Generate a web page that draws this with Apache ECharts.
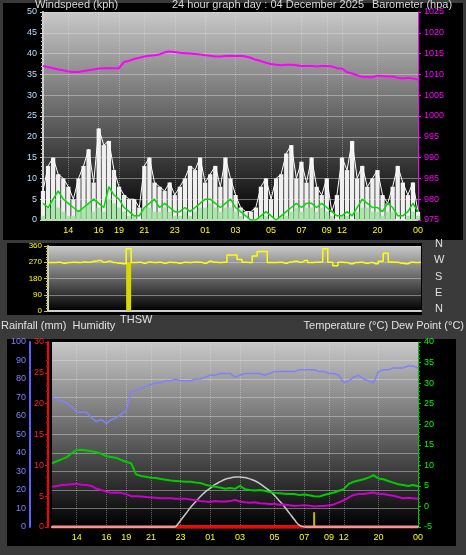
<!DOCTYPE html>
<html><head><meta charset="utf-8">
<script src="https://cdn.jsdelivr.net/npm/echarts@6/dist/echarts.min.js"></script>
<style>html,body{margin:0;padding:0;background:#3a3a3a}#c{width:466px;height:555px}</style>
</head><body><div id="c"></div>
<script>
// ---- data ----
var hourLabels = ['14','16','19','21','23','01','03','05','07','09','12','20','00'];
var hourIdx    = [5,11,15,20,26,32,38,45,51,56,59,66,74];
var windGust = [7,13,15,11,10,8,5,10,13,17,9,22,18,19,12,
  8,6,5,5,3,13,15,9,8,7,9,6,8,10,13,
  12,15,9,11,13,8,15,10,6,3,2,2,3,8,10,
  5,10,11,16,18,10,14,9,15,8,6,10,2,6,15,
  12,19,10,13,8,10,12,6,4,8,13,9,6,9,2];
var windAvg = [4,3,5,7,5,4,3,2,3,4,5,4,3,8,6,
  5,3,2,1,1,3,4,5,3,4,3,2,2,3,2,
  3,4,5,5,4,3,4,5,3,2,1,0,0,1,2,
  1,0,1,2,3,4,3,4,4,3,4,3,2,1,1,
  2,1,3,5,4,3,3,2,4,3,1,1,2,4,2];
var windLow = [1,3,5,3,2,1,1,2,3,4,2,3,2,5,4,
  3,2,1,1,0,3,3,2,2,3,2,1,1,2,1,
  2,3,3,4,3,2,3,3,2,1,0,0,0,1,1,
  0,0,1,1,2,3,2,3,3,2,3,2,1,0,1,
  1,0,2,3,3,2,2,1,2,2,0,0,1,2,1];
var pressure = [1012,1011.8,1011.5,1011.2,1011,1010.7,1010.6,1010.6,1010.8,1011,1011.2,1011.4,1011.5,1011.5,1011.5,
  1011.5,1013,1013.3,1013.7,1014,1014.3,1014.5,1014.6,1014.8,1015.3,1015.5,1015.4,1015.2,1015.1,1015,
  1014.9,1014.8,1014.6,1014.5,1014.3,1014.3,1014.4,1014.5,1014.4,1014.5,1014.3,1014,1013.5,1013.2,1012.8,
  1012.5,1012.3,1012.2,1012.3,1012.3,1012.2,1012,1012,1012,1011.9,1012,1012,1011.9,1011.5,1011.4,
  1010.5,1010.2,1009.8,1009.4,1009.4,1009.3,1009.7,1009.6,1009.5,1009.5,1009.2,1009,1009.2,1009,1008.8];
var windDir = [268,268,270,265,268,270,268,272,270,275,280,270,275,268,265,
  262,345,268,270,265,272,268,270,265,270,268,265,270,268,272,
  270,265,275,270,268,270,310,310,285,270,268,305,330,330,268,
  268,270,265,272,275,270,280,268,270,272,345,270,250,270,268,
  262,268,270,265,268,262,275,320,272,270,265,262,270,268,270];
var thsw = [null,null,null,null,null,null,null,null,null,null,null,null,null,null,null,
  null,270];
var temperature = [10.5,11,11.5,12,13,13.7,13.8,13.6,13.4,13.2,12.8,12.2,12,11.8,11.3,
  10.8,10.5,7.8,7.4,7.2,7,6.9,6.7,6.5,6.3,6.2,6.1,6,6,5.8,
  5.7,5.3,5,4.8,4.6,4.3,4.5,4.3,5,4.2,4,3.9,4,3.8,3.5,
  3.3,3.2,3.1,3,3,2.8,2.9,2.7,2.5,2.4,2.8,3.1,3.4,3.8,4.2,
  5.5,6,6.3,6.6,7,7.6,6.8,6.6,6.2,5.8,5.4,5.2,5,5.2,4.9];
var dewPoint = [4.8,5,5.2,5.3,5.4,5.5,5.3,5.2,5,4.3,4,3.6,3.3,3.4,3.3,
  3,2.5,2.5,2.4,2.3,2.2,2.1,2,2,2,1.9,1.9,1.9,1.7,1.5,
  1.3,1.2,1.1,1.3,1.2,1.2,1.3,1.6,1.2,1,0.9,1,0.8,0.7,0.6,
  0.6,0.4,0.5,0.3,0.1,0.2,0.3,0.2,0,0.1,0.1,0.3,0.5,1,1.5,
  2.2,2.8,3,3,3.2,3.4,3,3,2.8,2.6,2.3,2,2.1,2,1.9];
var humidity = [70,69,68,67,65,62,62,62,59,57,58,56,58,59,61,
  63,73,74,75,76,77,78,78,79,79,80,79,79,79,80,
  80,81,82,82,83,83,83,81,82,83,83,83,83,82,83,
  84,84,84,84,84,85,85,85,85,84,84,83,83,82,78,
  79,81,82,80,79,78,84,85,85,86,86,86,87,87,86];
var solar = [null,null,null,null,null,null,null,null,null,null,null,null,null,null,null,
  null,null,null,null,null,null,null,null,null,null,0,3.5,7,10.5,13.5,
  16.5,19,21,23,24.5,25.8,26.5,27,27,26.7,26,25,23.5,21.5,19.5,
  17,14,11,7.5,4,1,0];
var sunshine = [null,null,null,null,null,null,null,null,null,null,null,null,null,null,null,
  null,null,null,null,null,null,null,null,null,null,0,0,0,0,0,
  0,0,0,0,0,0,0,0,0,0,0,0,0,0,0,
  0,0,0,0,0,0,0];
var rainfall = [0,0,0,0,0,0,0,0,0,0,0,0,0,0,0,0,0,0,0,0,0,0,0,0,0,0,0,0,0,0,0,0,0,0,0,0,0,0,
  0,0,0,0,0,0,0,0,0,0,0,0,0,0,0,0,0,0,0,0,0,0,0,0,0,0,0,0,0,0,0,0,0,0,0,0,0];
var uvMark = [];
uvMark[53] = 8;

// ---- build ----
var N = windGust.length;
var cats = [];
for (var i = 0; i < N; i++) { var k = hourIdx.indexOf(i); cats.push(k >= 0 ? hourLabels[k] : ''); }
function isHour(i){ return hourIdx.indexOf(i) >= 0; }
function bg(){ return new echarts.graphic.LinearGradient(0,0,0,1,[{offset:0,color:'#c8c8c8'},{offset:1,color:'#000'}]); }
var split = {show:true,lineStyle:{color:'rgba(220,220,220,0.45)',width:1}};
function xa(idx, showLabel){
  return {type:'category',gridIndex:idx,data:cats,boundaryGap:false,
    axisLine:{lineStyle:{color:'#cfcfcf',width:2}},
    axisTick:{show:false},
    axisLabel:{show:showLabel,interval:function(i){return isHour(i);},color:'#ffff00',fontSize:9,margin:6,fontFamily:'Liberation Sans'},
    splitLine:{show:true,interval:function(i){return isHour(i);},lineStyle:{color:'rgba(230,230,230,0.4)',type:'dotted'}}};
}
function ya(o){
  var b = {type:'value',axisLine:{show:true,lineStyle:{color:'#cfcfcf',width:2}},
    axisTick:{show:true,length:3,lineStyle:{color:'#cfcfcf'}},
    minorTick:{show:true,splitNumber:5,length:2,lineStyle:{color:'#bbb'}},
    axisLabel:{fontSize:9,margin:4,fontFamily:'Liberation Sans'},splitLine:{show:false}};
  for (var k in o) b[k] = o[k];
  return b;
}
var plain = function(v){ return String(v); };
var chart = echarts.init(document.getElementById('c'));
chart.setOption({
  backgroundColor:'#3a3a3a',
  animation:false,
  graphic:[
    {type:'rect',shape:{x:3,y:3,width:460,height:237},style:{fill:'#000'},z:-10},
    {type:'rect',shape:{x:7,y:243,width:415,height:72},style:{fill:'#000'},z:-10},
    {type:'rect',shape:{x:7,y:339,width:449,height:207},style:{fill:'#000'},z:-10},
    {type:'text',left:35,top:-1,style:{text:'Windspeed (kph)',fill:'#d8d8d8',font:'11px "Liberation Sans"'}},
    {type:'text',left:172,top:-1,style:{text:'24 hour graph day : 04 December 2025',fill:'#d8d8d8',font:'11px "Liberation Sans"'}},
    {type:'text',left:372,top:-1,style:{text:'Barometer (hpa)',fill:'#d8d8d8',font:'11px "Liberation Sans"'}},
    {type:'text',left:435,top:238,style:{text:'N',fill:'#e0e0e0',font:'11px "Liberation Sans"'}},
    {type:'text',left:434,top:254,style:{text:'W',fill:'#e0e0e0',font:'11px "Liberation Sans"'}},
    {type:'text',left:435,top:271,style:{text:'S',fill:'#e0e0e0',font:'11px "Liberation Sans"'}},
    {type:'text',left:435,top:287,style:{text:'E',fill:'#e0e0e0',font:'11px "Liberation Sans"'}},
    {type:'text',left:435,top:303,style:{text:'N',fill:'#e0e0e0',font:'11px "Liberation Sans"'}},
    {type:'text',left:120,top:314,style:{text:'THSW',fill:'#e0e0e0',font:'11px "Liberation Sans"'}},
    {type:'text',left:1,top:320,style:{text:'Rainfall (mm)  Humidity',fill:'#e0e0e0',font:'11px "Liberation Sans"'}},
    {type:'text',right:2,top:320,style:{text:'Temperature (°C) Dew Point (°C)',fill:'#e0e0e0',font:'11px "Liberation Sans"'}}
  ],
  grid:[
    {left:43,top:12,width:375,height:208,show:true,backgroundColor:bg(),borderWidth:0},
    {left:48,top:246,width:373,height:65,show:true,backgroundColor:bg(),borderWidth:0},
    {left:52,top:342,width:366,height:185,show:true,backgroundColor:bg(),borderWidth:0}
  ],
  xAxis:[xa(0,true),
    (function(){var a=xa(1,false);a.splitLine={show:false};return a;})(),
    xa(2,true)],
  yAxis:[
    ya({gridIndex:0,position:'left',min:0,max:50,interval:5,axisLabel:{color:'#b8dcff',fontSize:9,margin:6},splitLine:split}),
    ya({gridIndex:0,position:'right',min:975,max:1025,interval:5,axisLabel:{color:'#ff00ff',fontSize:9,margin:6,formatter:plain},
       axisLine:{show:true,lineStyle:{color:'#ff00ff',width:1}},axisTick:{show:true,length:3,lineStyle:{color:'#ff00ff'}},minorTick:{show:false}}),
    ya({gridIndex:1,position:'left',min:0,max:360,interval:90,axisLabel:{color:'#ffff00',fontSize:8,margin:6},splitLine:split,
       minorTick:{show:true,splitNumber:6,length:2,lineStyle:{color:'#cccc00'}},axisTick:{show:true,length:4,lineStyle:{color:'#cccc00'}}}),
    ya({gridIndex:2,position:'left',min:0,max:100,interval:10,offset:22,axisLabel:{color:'#8080ff',fontSize:9,margin:4},
       axisLine:{show:true,lineStyle:{color:'#6060ff',width:2}},axisTick:{show:false},minorTick:{show:false},splitLine:split}),
    ya({gridIndex:2,position:'left',min:0,max:30,interval:5,offset:4,axisLabel:{color:'#ff2020',fontSize:9,margin:4},
       axisLine:{show:true,lineStyle:{color:'#ff0000',width:2}},axisTick:{show:true,length:3,lineStyle:{color:'#ff0000'}},
       minorTick:{show:true,splitNumber:5,length:2,lineStyle:{color:'#cc0000'}}}),
    ya({gridIndex:2,position:'right',min:-5,max:40,interval:5,axisLabel:{color:'#00ff00',fontSize:9,margin:6},
       axisLine:{show:true,lineStyle:{color:'#00cc00',width:1}},axisTick:{show:true,length:3,lineStyle:{color:'#00cc00'}},
       minorTick:{show:true,splitNumber:5,length:2,lineStyle:{color:'#00aa00'}}})
  ],
  series:[
    {type:'bar',xAxisIndex:0,yAxisIndex:0,data:windGust,itemStyle:{color:'#f0f0f0'},barGap:'-100%',barCategoryGap:'15%',z:1},
    {type:'bar',xAxisIndex:0,yAxisIndex:0,data:windLow,itemStyle:{color:'#a8e8a8'},barGap:'-100%',barCategoryGap:'15%',z:3},
    {type:'line',xAxisIndex:0,yAxisIndex:0,data:windGust,symbol:'none',lineStyle:{color:'#ffffff',width:1},z:2},
    {type:'line',xAxisIndex:0,yAxisIndex:0,data:windAvg,symbol:'none',lineStyle:{color:'#00dd00',width:1.5},z:4},
    {type:'line',xAxisIndex:0,yAxisIndex:1,data:pressure,symbol:'none',lineStyle:{color:'#ff00ff',width:2}},
    {type:'bar',xAxisIndex:1,yAxisIndex:2,data:thsw,barWidth:5,itemStyle:{color:'#d8d800'}},
    {type:'line',xAxisIndex:1,yAxisIndex:2,data:windDir,symbol:'none',step:'middle',lineStyle:{color:'#ffff00',width:1.5}},
    {type:'line',xAxisIndex:2,yAxisIndex:4,data:rainfall,symbol:'none',lineStyle:{color:'#ff9090',width:3}},
    {type:'line',xAxisIndex:2,yAxisIndex:4,data:sunshine,symbol:'none',lineStyle:{color:'#ff0000',width:3}},
    {type:'bar',xAxisIndex:2,yAxisIndex:3,data:uvMark,barWidth:2,itemStyle:{color:'#c8b400'}},
    {type:'line',xAxisIndex:2,yAxisIndex:3,data:solar,symbol:'none',smooth:true,lineStyle:{color:'#c8c8c8',width:1.5}},
    {type:'line',xAxisIndex:2,yAxisIndex:3,data:humidity,symbol:'none',lineStyle:{color:'#8080ff',width:1.5}},
    {type:'line',xAxisIndex:2,yAxisIndex:5,data:temperature,symbol:'none',lineStyle:{color:'#00cc00',width:2}},
    {type:'line',xAxisIndex:2,yAxisIndex:5,data:dewPoint,symbol:'none',lineStyle:{color:'#cc00cc',width:2}}
  ]
});
</script></body></html>
